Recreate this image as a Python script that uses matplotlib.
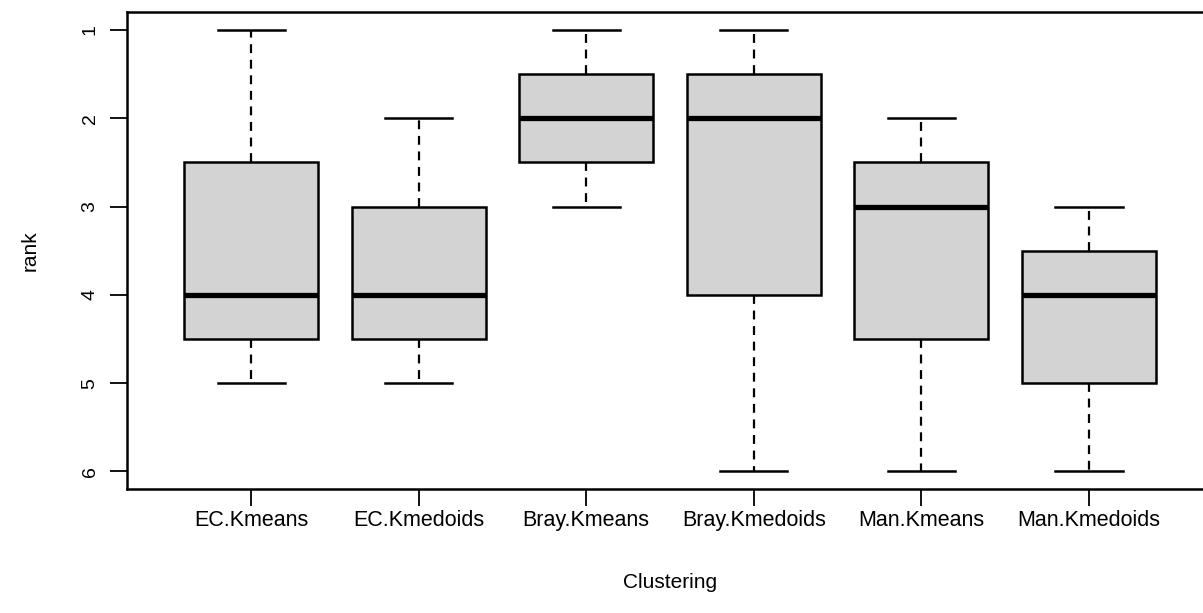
import matplotlib
matplotlib.use("Agg")
import matplotlib.pyplot as plt

categories = ["EC.Kmeans", "EC.Kmedoids", "Bray.Kmeans", "Bray.Kmedoids", "Man.Kmeans", "Man.Kmedoids"]
whisker_low = [1, 2, 1, 1, 2, 3]
q1 = [2.5, 3, 1.5, 1.5, 2.5, 3.5]
medians = [4, 4, 2, 2, 3, 4]
q3 = [4.5, 4.5, 2.5, 4, 4.5, 5]
whisker_high = [5, 5, 3, 6, 6, 6]
y_ticks = [1, 2, 3, 4, 5, 6]

plt.rcParams['font.family'] = ['Liberation Sans', 'DejaVu Sans']

fig = plt.figure(figsize=(12.03, 6.13), dpi=100)
ax = fig.add_axes([127 / 1203, 1 - 489 / 613, (1213 - 127) / 1203, (489 - 12.4) / 613])

stats = []
for name, wl, a, m, b, wh in zip(categories, whisker_low, q1, medians, q3, whisker_high):
    stats.append(dict(label=name, whislo=wl, q1=a, med=m, q3=b, whishi=wh, fliers=[]))

positions = list(range(1, len(categories) + 1))
ax.bxp(stats, positions=positions, widths=0.8, patch_artist=True, showfliers=False,
       boxprops=dict(facecolor="#D3D3D3", edgecolor="black", linewidth=1.8),
       medianprops=dict(color="black", linewidth=3.8, solid_capstyle="butt"),
       whiskerprops=dict(color="black", linewidth=1.6, linestyle=(0, (4, 3))),
       capprops=dict(color="black", linewidth=1.8),
       capwidths=0.4)

ax.set_xlim(0.26, 6.74)
ax.set_ylim(6.2, 0.8)
ax.set_yticks(y_ticks)
ax.set_yticklabels([str(v) for v in y_ticks], rotation=90, va="center", fontsize=14)
ax.set_xticks(positions)
ax.set_xticklabels(categories, fontsize=15.5)
ax.tick_params(axis="both", length=12, width=1.3, color="black")
ax.tick_params(axis="x", pad=3)
ax.tick_params(axis="y", pad=8.5)
for s in ax.spines.values():
    s.set_linewidth(1.8)

ax.set_xlabel("Clustering", fontsize=15, labelpad=30)
ax.set_ylabel("rank", fontsize=15, labelpad=30)

fig.savefig("out.png", dpi=100)
